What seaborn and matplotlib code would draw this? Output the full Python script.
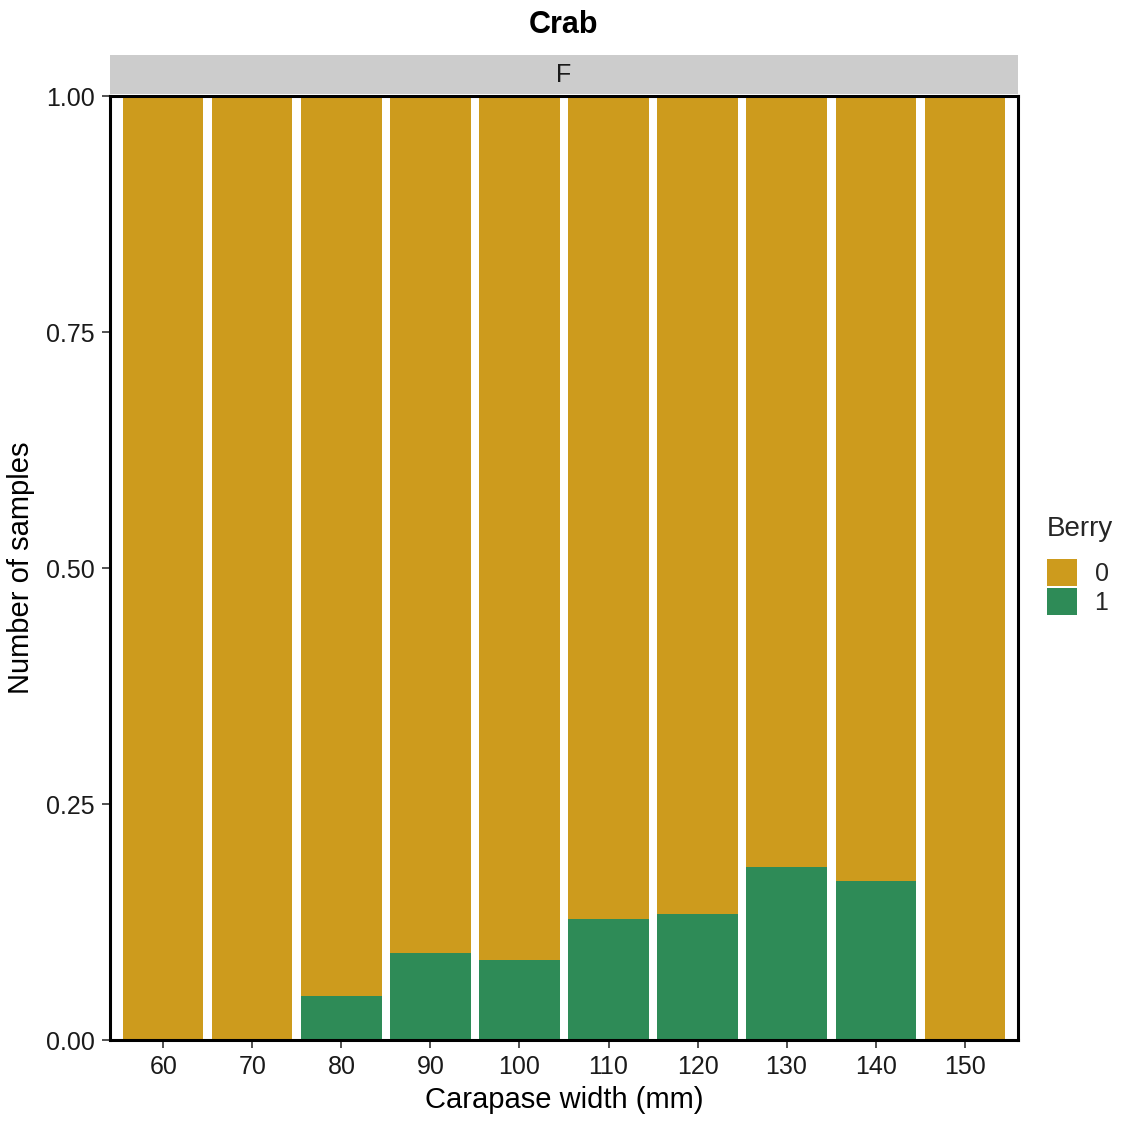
import matplotlib
matplotlib.use("Agg")
import matplotlib.pyplot as plt
import seaborn as sns
import pandas as pd
from matplotlib.patches import Rectangle, Patch

widths = ["60", "70", "80", "90", "100", "110", "120", "130", "140", "150"]
berry1 = [0.0, 0.0, 0.047, 0.092, 0.085, 0.128, 0.133, 0.183, 0.168, 0.0]
berry0 = [1 - v for v in berry1]
yticks = [0.00, 0.25, 0.50, 0.75, 1.00]
ytick_labels = ["0.00", "0.25", "0.50", "0.75", "1.00"]

gold = "#CD9B1D"
green = "#2E8B57"

df = pd.DataFrame({"width": widths, "b0": berry0, "b1": berry1})
df["total"] = df["b0"] + df["b1"]

sns.set_theme(style="white")
plt.rcParams["font.family"] = ["Liberation Sans", "DejaVu Sans"]

fig = plt.figure(figsize=(11.27, 11.22), dpi=100)
ax = fig.add_axes([110 / 1127, 82 / 1122, 908 / 1127, 944 / 1122])

sns.barplot(data=df, x="width", y="total", color=gold, width=0.9,
            saturation=1, ax=ax, order=widths, linewidth=0)
sns.barplot(data=df, x="width", y="b1", color=green, width=0.9,
            saturation=1, ax=ax, order=widths, linewidth=0)

ax.set_xlim(-0.6, 9.6)
ax.set_ylim(0, 1)
ax.set_yticks(yticks)
ax.set_yticklabels(ytick_labels)
ax.tick_params(axis="both", direction="out", length=6, width=1.2,
               colors="#333333", labelsize=18, labelcolor="#1A1A1A",
               bottom=True, left=True, pad=5)
for s in ax.spines.values():
    s.set_color("black")
    s.set_linewidth(2.2)
    s.set_visible(True)

ax.set_xlabel("Carapase width (mm)", fontsize=21, color="black", labelpad=5)
ax.set_ylabel("Number of samples", fontsize=21, color="black", labelpad=8)

# facet strip
strip = Rectangle((0, 1.0025), 1, 0.0405, transform=ax.transAxes,
                  facecolor="#CCCCCC", edgecolor="none", clip_on=False)
ax.add_patch(strip)
ax.text(0.5, 1.0025 + 0.0405 / 2, "F", transform=ax.transAxes,
        ha="center", va="center", fontsize=18, color="#1A1A1A")

fig.text(563 / 1127, 1 - 25 / 1122, "Crab", ha="center", va="center",
         fontsize=22, fontweight="bold", color="black")

handles = [Patch(facecolor=gold, edgecolor="none", label="0"),
           Patch(facecolor=green, edgecolor="none", label="1")]
leg = fig.legend(handles=handles, title="Berry", loc="upper left",
                 bbox_to_anchor=(1047 / 1127, 1 - 516 / 1122), frameon=False,
                 fontsize=18, title_fontsize=20, handlelength=1.2,
                 handleheight=1.3, labelspacing=0.08, handletextpad=0.7,
                 borderpad=0, borderaxespad=0, alignment="left")
leg._legend_box.sep = 12

fig.savefig("out.png", dpi=100)
